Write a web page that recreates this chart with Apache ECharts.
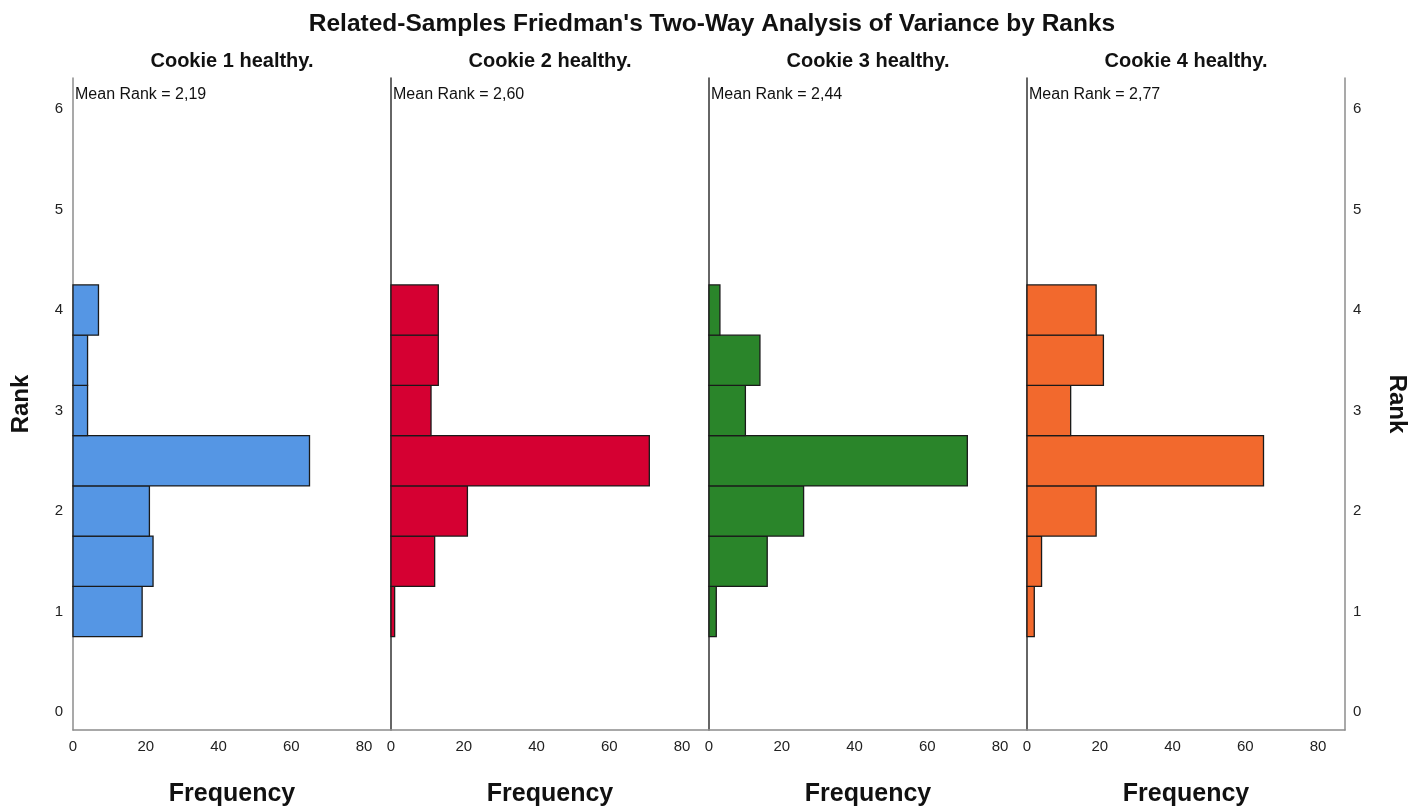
<!DOCTYPE html>
<html><head><meta charset="utf-8">
<script src="https://cdn.jsdelivr.net/npm/echarts@6/dist/echarts.min.js"></script>
<style>html,body{margin:0;padding:0;background:#fff}#c{width:1424px;height:807px}</style>
</head><body><div id="c"></div>
<script>
// ---- data ----
const chartTitle = "Related-Samples Friedman's Two-Way Analysis of Variance by Ranks";
const rankBins = [1, 1.5, 2, 2.5, 3, 3.5, 4];
const binHalfWidth = 0.25;
const cookie1 = [19, 22, 21, 65, 4, 4, 7];
const cookie2 = [1, 12, 21, 71, 11, 13, 13];
const cookie3 = [2, 16, 26, 71, 10, 14, 3];
const cookie4 = [2, 4, 19, 65, 12, 21, 19];
const panelNames = ['Cookie 1 healthy.', 'Cookie 2 healthy.', 'Cookie 3 healthy.', 'Cookie 4 healthy.'];
const meanRanks = ['2,19', '2,60', '2,44', '2,77'];
const freqTicks = [0, 20, 40, 60, 80];
const rankTicks = [0, 1, 2, 3, 4, 5, 6];
const xTitle = 'Frequency';
const yTitle = 'Rank';

// ---- styles ----
const FONT = "'Liberation Sans', Arial, sans-serif";
const colors = ['#5596E4', '#D50032', '#2A852A', '#F2692D'];
const seriesData = [cookie1, cookie2, cookie3, cookie4];
const panelLeft = 73, panelW = 318, gridTop = 78, gridH = 652;
const yMin = -0.18, yMax = 6.31, xMax = 87.4;

const grids = [], xAxes = [], yAxes = [], series = [], titles = [];
titles.push({text: chartTitle, left: 'center', top: 12, padding: 0,
  textStyle: {fontFamily: FONT, fontSize: 24.5, fontWeight: 'bold', color: '#111'}});

seriesData.forEach((vals, i) => {
  const left = panelLeft + panelW * i;
  grids.push({left: left, top: gridTop, width: panelW, height: gridH,
    containLabel: false, outerBoundsMode: 'none'});
  xAxes.push({
    gridIndex: i, type: 'value', min: 0, max: xMax,
    axisLine: {show: true, onZero: false, lineStyle: {color: '#8c8c8c', width: 1.5}},
    axisTick: {show: false}, splitLine: {show: false},
    axisLabel: {customValues: freqTicks, color: '#222', fontSize: 15, fontFamily: FONT, margin: 9},
    name: xTitle, nameLocation: 'middle', nameGap: 52,
    nameTextStyle: {fontFamily: FONT, fontSize: 25, fontWeight: 'bold', color: '#111'}
  });
  yAxes.push({
    gridIndex: i, type: 'value', min: yMin, max: yMax, position: 'left',
    axisLine: {show: true, onZero: false, lineStyle: {color: i === 0 ? '#8c8c8c' : '#333', width: 1.5}},
    axisTick: {show: false}, splitLine: {show: false},
    axisLabel: i === 0 ? {customValues: rankTicks, color: '#222', fontSize: 15, fontFamily: FONT, margin: 10} : {show: false},
    name: i === 0 ? yTitle : '', nameLocation: 'middle', nameGap: 40, nameRotate: 90,
    nameTextStyle: {fontFamily: FONT, fontSize: 24, fontWeight: 'bold', color: '#111'}
  });
  series.push({
    type: 'custom', xAxisIndex: i, yAxisIndex: i,
    data: vals.map((v, k) => [v, rankBins[k] - binHalfWidth, rankBins[k] + binHalfWidth]),
    encode: {x: 0, y: [1, 2]},
    renderItem: function (params, api) {
      const p0 = api.coord([0, api.value(2)]);
      const p1 = api.coord([api.value(0), api.value(1)]);
      return {type: 'rect', shape: {x: p0[0], y: p0[1], width: p1[0] - p0[0], height: p1[1] - p0[1]},
        style: {fill: colors[i], stroke: '#1a1a1a', lineWidth: 1.3}};
    },
    silent: true, z: 3
  });
  titles.push({text: panelNames[i], left: left + panelW / 2, top: 51, textAlign: 'center', padding: 0,
    textStyle: {fontFamily: FONT, fontSize: 20, fontWeight: 'bold', color: '#111'}});
  titles.push({text: 'Mean Rank = ' + meanRanks[i], left: left + 2, top: 87, padding: 0,
    textStyle: {fontFamily: FONT, fontSize: 16, fontWeight: 'normal', color: '#111'}});
});
// right-side rank axis on last panel
yAxes.push({
  gridIndex: 3, type: 'value', min: yMin, max: yMax, position: 'right',
  axisLine: {show: true, onZero: false, lineStyle: {color: '#8c8c8c', width: 1.5}},
  axisTick: {show: false}, splitLine: {show: false},
  axisLabel: {customValues: rankTicks, color: '#222', fontSize: 15, fontFamily: FONT, margin: 8},
  name: yTitle, nameLocation: 'middle', nameGap: 40, nameRotate: -90,
  nameTextStyle: {fontFamily: FONT, fontSize: 24, fontWeight: 'bold', color: '#111'}
});

const chart = echarts.init(document.getElementById('c'), null, {renderer: 'canvas'});
chart.setOption({
  animation: false, backgroundColor: '#fff',
  title: titles, grid: grids, xAxis: xAxes, yAxis: yAxes, series: series
});
</script></body></html>
